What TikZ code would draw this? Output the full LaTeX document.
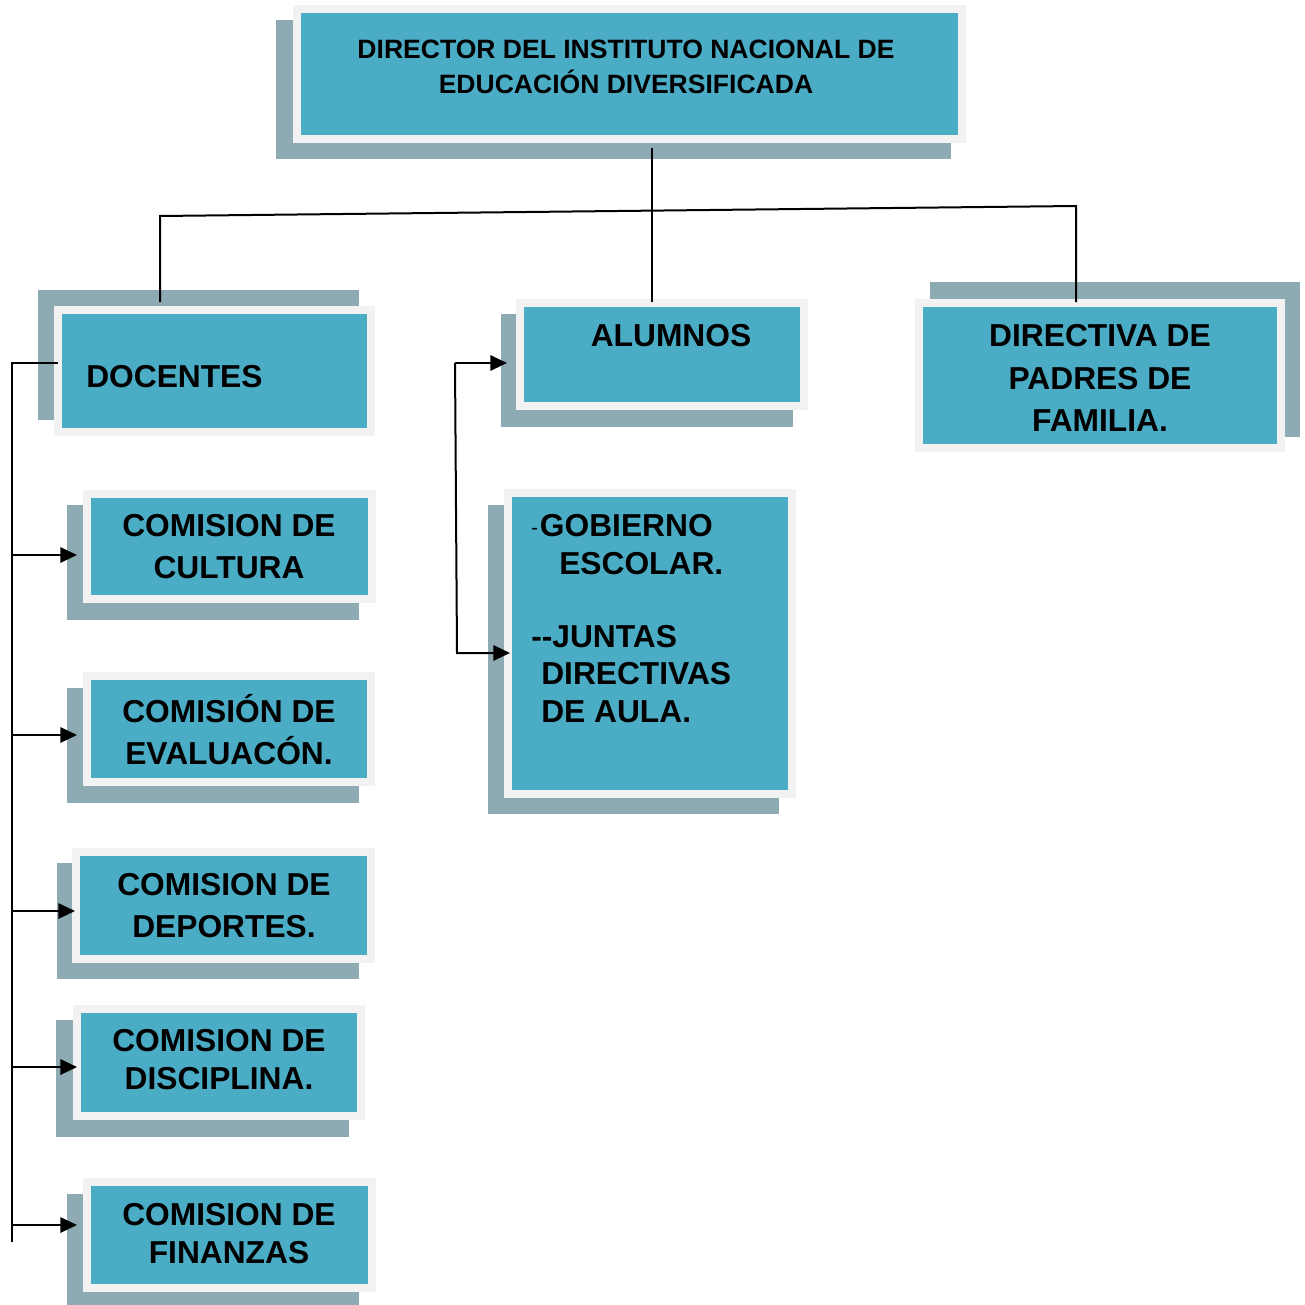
\documentclass[tikz,border=0pt]{standalone}
\usepackage{fontspec}
\setmainfont{Liberation Sans}
\usetikzlibrary{arrows.meta}
\definecolor{boxblue}{HTML}{4BACC6}
\definecolor{framec}{HTML}{F2F2F2}
\definecolor{shadowc}{HTML}{8EAAB3}
\tikzset{
  orgframe/.style={fill=framec, inner sep=0pt, outer sep=0pt, anchor=north west,
    path picture={\fill[boxblue] ([shift={(8,8)}]path picture bounding box.north west)
      rectangle ([shift={(-8,-8)}]path picture bounding box.south east);}},
  lbl/.style={font=\bfseries\fontsize{23.8pt}{31.5pt}\selectfont, align=center, inner sep=0pt},
  conn/.style={line width=1.5pt, black},
  arr/.style={conn, -{Triangle[length=12.5pt,width=11.5pt]}},
}
\newcommand\orgbox[9]{%
  \fill[shadowc] (#2,#3) rectangle (#4,#5);
  \node[orgframe, minimum width={(#8-#6)*0.75pt}, minimum height={(#9-#7)*0.75pt}] (#1) at (#6,#7) {};}
\begin{document}
\begin{tikzpicture}[x=0.75pt, y=-0.75pt]
\useasboundingbox[fill=white] (0,0) rectangle (1304,1305);
% boxes: name, shadow x1 y1 x2 y2, frame x1 y1 x2 y2
\orgbox{dir}{276}{20}{951}{159}{293}{5}{966}{143}
\orgbox{doc}{38}{290}{359}{420}{54}{306}{375}{436}
\orgbox{alu}{501}{314}{793}{427}{516}{299}{808}{410}
\orgbox{dpf}{930}{282}{1300}{437}{915}{299}{1285}{452}
\orgbox{cul}{67}{505}{359}{620}{83}{490}{376}{603}
\orgbox{eva}{67}{688}{359}{803}{83}{672}{375}{786}
\orgbox{dep}{57}{863}{359}{979}{72}{848}{375}{963}
\orgbox{dis}{56}{1020}{349}{1137}{73}{1005}{365}{1120}
\orgbox{fin}{67}{1194}{359}{1306}{83}{1178}{376}{1292}
\orgbox{gob}{488}{505}{779}{814}{504}{489}{796}{798}

% texts
\node[lbl, font=\bfseries\fontsize{19.9pt}{26.25pt}\selectfont] (tdir) at (626,67)
  {DIRECTOR DEL INSTITUTO NACIONAL DE\\EDUCACIÓN DIVERSIFICADA};
\node[lbl, anchor=west] (tdoc) at (86,377) {DOCENTES};
\node[lbl] (talu) at (671,336) {ALUMNOS};
\node[lbl, font=\bfseries\fontsize{23.8pt}{32pt}\selectfont] (tdpf) at (1100,378)
  {DIRECTIVA DE\\PADRES DE\\FAMILIA.};
\node[lbl] (tcul) at (229,547) {COMISION DE\\CULTURA};
\node[lbl] (teva) at (229,729.5) {COMISIÓN DE\\EVALUACÓN.};
\node[lbl] (tdep) at (224,906) {COMISION DE\\DEPORTES.};
\node[lbl, font=\bfseries\fontsize{23.8pt}{28pt}\selectfont] (tdis) at (219,1059.5)
  {COMISION DE\\DISCIPLINA.};
\node[lbl, font=\bfseries\fontsize{23.8pt}{28.5pt}\selectfont] (tfin) at (229,1234)
  {COMISION DE\\FINANZAS};
\node[lbl, font=\bfseries\fontsize{23.8pt}{28pt}\selectfont, align=left, anchor=north west] (tgob) at (531,514.5)
  {\raisebox{1.5pt}{\mdseries\fontsize{15pt}{15pt}\selectfont -}\kern1.5pt GOBIERNO\\
   \hspace*{21pt}ESCOLAR.\\[27pt]
   -\kern0pt-JUNTAS\\
   \hspace*{7.5pt}DIRECTIVAS\\
   \hspace*{7.5pt}DE AULA.};

% top connectors
\coordinate (dirout) at (652,148);
\coordinate (aluin) at (652,302);
\coordinate (busL) at (160,216);
\coordinate (busR) at (1076,206);
\coordinate (docin) at (160,302);
\coordinate (dpfin) at (1076,302);
\draw[conn] (dirout) -- (aluin);
\draw[conn] (docin) -- (busL) -- (busR) -- (dpfin);

% docentes trunk
\coordinate (trunkTop) at (12,363);
\coordinate (trunkBot) at (12,1242);
\draw[conn] ([xshift=3pt,yshift=6pt]doc.west) -- (trunkTop) -- (trunkBot);
\coordinate (aC) at (12,555);
\coordinate (aE) at (12,735);
\coordinate (aD) at (12,911);
\coordinate (aS) at (12,1067);
\coordinate (aF) at (12,1225);
\draw[arr, shorten >=4.5pt] (aC) -- (aC -| cul.west);
\draw[arr, shorten >=4.5pt] (aE) -- (aE -| eva.west);
\draw[arr, shorten >=-2.25pt] (aD) -- (aD -| dep.west);
\draw[arr, shorten >=-3pt] (aS) -- (aS -| dis.west);
\draw[arr, shorten >=4.5pt] (aF) -- (aF -| fin.west);

% alumnos / gobierno
\coordinate (ga) at (455,363);
\coordinate (gb) at (457,653);
\draw[arr, shorten >=6.75pt] (ga) -- (ga -| alu.west);
\draw[arr, shorten >=-4.5pt] (ga) -- (gb) -- (gb -| gob.west);
\end{tikzpicture}
\end{document}
